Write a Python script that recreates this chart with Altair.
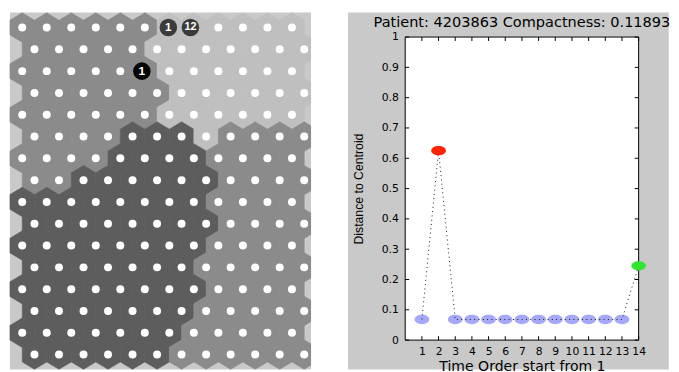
import altair as alt
import pandas as pd

# ---------------- left panel: SOM hexagonal map ----------------
grid_rows = [
    "AAAAAALLLLLL",
    "AAAAALLLLLLL",
    "AAAAAALLLLLL",
    "AAAAAALLLLLL",
    "AAAAAALLLLLL",
    "AAAADDDLBBBB",
    "AAAADDDDBBBB",
    "AADDDDDDBBBB",
    "DDDDDDDDBBBB",
    "DDDDDDDDBBBB",
    "DDDDDDDDBBBB",
    "DDDDDDDBBBBB",
    "DDDDDDDDBBBB",
    "DDDDDDDBBBBB",
    "DDDDDDDBBBBB",
    "DDDDDDBBBBBB",
]
cluster_names = ["A", "L", "D", "B"]
cluster_shades = ["#8b8b8b", "#bfbfbf", "#5d5d5d", "#8b8b8b"]

marker_rows = [0, 0, 2]
marker_cols = [5.96, 6.86, 4.88]
marker_labels = ["1", "12", "1"]
marker_fills = ["#3b3b3b", "#3b3b3b", "#050505"]
marker_sizes = [12, 11, 12]

# ---------------- right panel: distance to centroid ----------------
time_order = [1, 2, 3, 4, 5, 6, 7, 8, 9, 10, 11, 12, 13, 14]
distance = [0.068, 0.625, 0.068, 0.068, 0.068, 0.068, 0.068,
            0.068, 0.068, 0.068, 0.068, 0.068, 0.068, 0.245]
point_kind = ["blue", "red", "blue", "blue", "blue", "blue", "blue",
              "blue", "blue", "blue", "blue", "blue", "blue", "green"]
kind_names = ["blue", "red", "green"]
kind_colors = ["#a3a9f7", "#ff2200", "#33e433"]
y_tick_values = [0, 0.1, 0.2, 0.3, 0.4, 0.5, 0.6, 0.7, 0.8, 0.9, 1]
title_text = "Patient: 4203863 Compactness: 0.11893"
x_title = "Time Order start from 1"
y_title = "Distance to Centroid"

# ---------- build tables ----------
cells = []
for r, row in enumerate(grid_rows):
    for c, ch in enumerate(row):
        cells.append({"row": r, "col": c, "cluster": ch})
cells_df = pd.DataFrame(cells)
markers_df = pd.DataFrame({"row": marker_rows, "col": marker_cols, "label": marker_labels,
                           "fill": marker_fills, "fs": marker_sizes})
one = pd.DataFrame({"a": [0]})

LW, LH = 307, 339
xs_left = alt.Scale(domain=[-0.5, 11.78], nice=False, zero=False)
ys_left = alt.Scale(domain=[-0.688, 15.686], range=[-25, LH], nice=False, zero=False)
hex_path = "M0,-1.2L1,-0.6L1,0.6L0,1.2L-1,0.6L-1,-0.6Z"

left_bg = alt.Chart(one).mark_rect(color="#c9c9c9").encode(
    x=alt.value(0), x2=alt.value(LW), y=alt.value(-25), y2=alt.value(LH))
base_cells = alt.Chart(cells_df).transform_calculate(
    xpos="datum.col + (datum.row % 2) * 0.5"
)
hexes = base_cells.mark_point(shape=hex_path, size=625, filled=True, opacity=1,
                              strokeWidth=0.6).encode(
    x=alt.X("xpos:Q", scale=xs_left, axis=None),
    y=alt.Y("row:Q", scale=ys_left, axis=None),
    fill=alt.Fill("cluster:N", scale=alt.Scale(domain=cluster_names, range=cluster_shades), legend=None),
    stroke=alt.Stroke("cluster:N", scale=alt.Scale(domain=cluster_names, range=cluster_shades), legend=None),
)
dots = base_cells.mark_circle(size=66, color="white", opacity=1).encode(
    x=alt.X("xpos:Q", scale=xs_left, axis=None),
    y=alt.Y("row:Q", scale=ys_left, axis=None),
)
mask = alt.Chart(one).mark_rect(color="white").encode(
    x=alt.value(LW), x2=alt.value(LW + 13), y=alt.value(-25), y2=alt.value(LH))
mk = alt.Chart(markers_df)
mk_circles = mk.mark_circle(size=320, opacity=1).encode(
    x=alt.X("col:Q", scale=xs_left, axis=None),
    y=alt.Y("row:Q", scale=ys_left, axis=None),
    color=alt.Color("fill:N", scale=None, legend=None),
)
mk_text = mk.mark_text(color="white", fontWeight="bold", font="Liberation Sans",
                       baseline="middle", align="center").encode(
    x=alt.X("col:Q", scale=xs_left, axis=None),
    y=alt.Y("row:Q", scale=ys_left, axis=None),
    text="label:N",
    size=alt.Size("fs:Q", scale=None, legend=None),
)
left = alt.layer(left_bg, hexes, dots, mask, mk_circles, mk_text).properties(
    width=LW, height=LH,
    view=alt.ViewBackground(fill="transparent", strokeWidth=0),
)

# ---------- right panel ----------
RW, RH = 238, 309
pts_df = pd.DataFrame({"t": time_order, "d": distance, "kind": point_kind})
xticks_df = pd.DataFrame({"t": time_order})
yticks_df = pd.DataFrame({"d": y_tick_values})

xs = alt.Scale(domain=[0, 14], nice=False, zero=False)
ys = alt.Scale(domain=[0, 1], nice=False, zero=False)

x_axis = alt.Axis(values=time_order, labelFont="DejaVu Sans", labelFontSize=11, labelColor="black",
                  labelPadding=6, ticks=False, domain=False, grid=False, labelAngle=0,
                  labelOverlap=False, labelBound=False, labelFlush=False,
                  title=x_title, titleFont="DejaVu Sans", titleFontSize=14.3, titleFontWeight="normal",
                  titleColor="black", titleX=RW / 2, titleY=30.5, titleBaseline="alphabetic",
                  titleAlign="center", zindex=1)
y_axis = alt.Axis(values=y_tick_values, format="~g", labelFont="DejaVu Sans", labelFontSize=11,
                  labelColor="black", labelPadding=7, ticks=False, domain=False, grid=False,
                  labelOverlap=False, labelBound=False, labelFlush=False,
                  title=y_title, titleFont="Liberation Sans",
                  titleFontSize=12.5, titleFontWeight="normal", titleColor="black",
                  titleX=-44, titleY=RH / 2, titleAngle=270, titleBaseline="alphabetic",
                  titleAlign="center", zindex=1)

X = alt.X("t:Q", scale=xs, axis=x_axis)
Y = alt.Y("d:Q", scale=ys, axis=y_axis)

grey_bg = alt.Chart(one).mark_rect(color="#c9c9c9").encode(
    x=alt.value(-58.3), x2=alt.value(268.7), y=alt.value(-25), y2=alt.value(339))
frame = alt.Chart(one).mark_rect(fill="white", stroke="black", strokeWidth=1).encode(
    x=alt.value(0), x2=alt.value(RW), y=alt.value(0), y2=alt.value(RH))

ellipse = "M-1,0A1,0.63,0,1,0,1,0A1,0.63,0,1,0,-1,0Z"
kind_color = alt.Color("kind:N", scale=alt.Scale(domain=kind_names, range=kind_colors), legend=None)
pts_base = alt.Chart(pts_df)
blue_pts = pts_base.transform_filter("datum.kind == 'blue'").mark_point(
    shape=ellipse, size=225, filled=True, opacity=1, strokeWidth=0).encode(x=X, y=Y, color=kind_color)
line = pts_base.mark_line(color="#1a1a1a", strokeWidth=1, strokeDash=[1, 3.4]).encode(x=X, y=Y)
hot_pts = pts_base.transform_filter("datum.kind != 'blue'").mark_point(
    shape=ellipse, size=225, filled=True, opacity=1, strokeWidth=0).encode(x=X, y=Y, color=kind_color)

xt = alt.Chart(xticks_df)
tick_bottom = xt.mark_rule(color="black", strokeWidth=1).encode(
    x=X, y=alt.value(RH), y2=alt.value(RH - 4))
tick_top = xt.mark_rule(color="black", strokeWidth=1).encode(
    x=X, y=alt.value(0), y2=alt.value(4))
yt = alt.Chart(yticks_df)
tick_left = yt.mark_rule(color="black", strokeWidth=1).encode(
    y=Y, x=alt.value(0), x2=alt.value(4))
tick_right = yt.mark_rule(color="black", strokeWidth=1).encode(
    y=Y, x=alt.value(RW), x2=alt.value(RW - 4))
title = alt.Chart(one).mark_text(text=title_text, font="DejaVu Sans", fontSize=14.8,
                                 align="center", baseline="alphabetic", color="black").encode(
    x=alt.value(RW / 2), y=alt.value(-10.7))

right = alt.layer(grey_bg, frame, blue_pts, line, hot_pts,
                  tick_bottom, tick_top, tick_left, tick_right, title).properties(
    width=RW, height=RH,
    view=alt.ViewBackground(fill="transparent", strokeWidth=0),
)

chart = alt.hconcat(left, right, spacing=24).properties(padding=0, background="white")
chart.save("out.html", embed_options={"renderer": "svg", "actions": False})
